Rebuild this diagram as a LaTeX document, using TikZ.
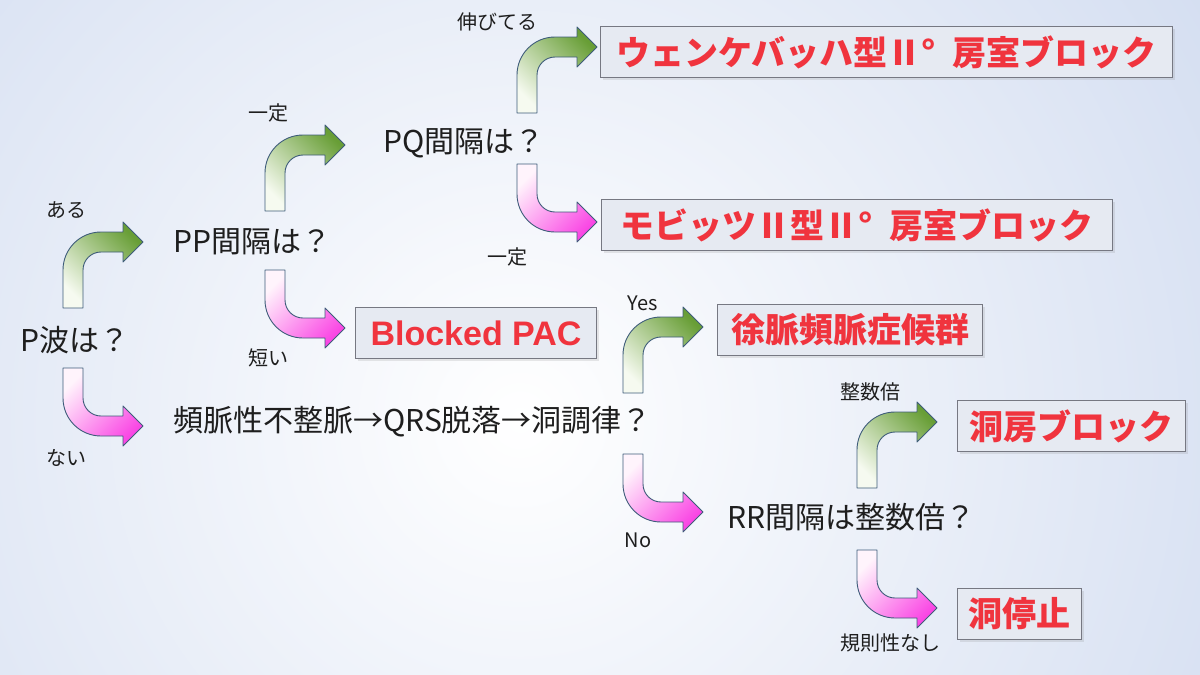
\documentclass[tikz,border=0pt]{standalone}
\usepackage{fontspec}
\setmainfont{Noto Sans CJK JP}
\newfontfamily\arialish{Liberation Sans}
\usetikzlibrary{calc,shadows}

\definecolor{bgblue}{RGB}{212,222,241}
\definecolor{ink}{RGB}{30,30,30}
\definecolor{alert}{RGB}{240,52,62}
\definecolor{boxline}{RGB}{118,120,130}
\definecolor{boxfill}{RGB}{230,234,242}
\definecolor{edge}{RGB}{62,92,122}
\definecolor{leafdark}{RGB}{104,158,54}
\definecolor{leaflight}{RGB}{246,250,240}
\definecolor{rosedark}{RGB}{250,70,228}
\definecolor{roselight}{RGB}{255,244,252}

\tikzset{
  ask/.style={anchor=west, inner sep=0pt, text=ink, font=\fontsize{30}{35}\selectfont},
  tag/.style={inner sep=0pt, text=ink, font=\fontsize{20}{24}\selectfont},
  result/.style={anchor=west, draw=boxline, line width=1pt, fill=boxfill, text=alert,
    inner xsep=6pt, minimum height=51pt,
    font=\bfseries\fontsize{34}{40}\selectfont,
    drop shadow={opacity=0.18, shadow xshift=2pt, shadow yshift=-2pt}},
  arrowline/.style={draw=edge, line width=0.9pt, line join=round},
  % bent arrows, tip at the origin
  upturn/.pic={
    \path[arrowline, top color=leafdark, bottom color=leaflight, shading angle=-45]
      (-80,66) -- (-80,28) .. controls (-80,7) and (-63,-10) .. (-42,-10)
      -- (-20,-10) -- (-20,-20) -- (0,0) -- (-20,20) -- (-20,10) -- (-42,10)
      .. controls (-51.94,10) and (-60,18.06) .. (-60,28) -- (-60,66) -- cycle;
  },
  downturn/.pic={
    \path[arrowline, top color=roselight, bottom color=rosedark, shading angle=45]
      (-80,-58) -- (-80,-28) .. controls (-80,-7) and (-63,10) .. (-42,10)
      -- (-20,10) -- (-20,20) -- (0,0) -- (-20,-20) -- (-20,-10) -- (-42,-10)
      .. controls (-51.94,-10) and (-60,-18.06) .. (-60,-28) -- (-60,-58) -- cycle;
  }
}

\begin{document}
\begin{tikzpicture}[x=1pt,y=-1pt]
  \useasboundingbox (0,0) rectangle (1200,675);
  \begin{scope}
    \clip (0,0) rectangle (1200,675);
    \shade[inner color=white, outer color=bgblue] (520,420) circle (820);
  \end{scope}

  % questions
  \node[ask] (pwave) at (20,340) {P波は？};
  \node[ask] (pp) at (173,242) {PP間隔は？};
  \node[ask] (pq) at (383,143) {PQ間隔は？};
  \node[ask] (tachy) at (173,422) {頻脈性不整脈→QRS脱落→洞調律？};
  \node[ask] (rr) at (727,517) {RR間隔は整数倍？};

  % answers
  \node[result, minimum width=572] (wenck) at (600,52) {ウェンケバッハ型Ⅱ°\hspace{.5em}房室ブロック};
  \node[result, minimum width=511] (mobitz) at (601,225) {モビッツⅡ型Ⅱ°\hspace{.5em}房室ブロック};
  \node[result, minimum width=241] (pac) at (355,333) {\arialish\bfseries Blocked PAC};
  \node[result, minimum width=265] (brady) at (717,330) {徐脈頻脈症候群};
  \node[result, minimum width=228] (sab) at (957,426) {洞房ブロック};
  \node[result, minimum width=124] (arrest) at (957,614) {洞停止};

  % arrows
  \pic (toPP) at ($(pp.west)+(-30,0)$) {upturn};
  \pic (toTachy) at ($(tachy.west)+(-30,4)$) {downturn};
  \pic (toPQ) at ($(pq.west)+(-38,2)$) {upturn};
  \pic (toPAC) at ($(pac.west)+(-10,-5)$) {downturn};
  \pic (toWenck) at ($(wenck.west)+(-3,-5)$) {upturn};
  \pic (toMobitz) at ($(mobitz.west)+(-4,-3)$) {downturn};
  \pic (toBrady) at ($(brady.west)+(-14,-3)$) {upturn};
  \pic (toRR) at ($(rr.west)+(-24,-5)$) {downturn};
  \pic (toSAB) at ($(sab.west)+(-20,-4)$) {upturn};
  \pic (toArrest) at ($(arrest.west)+(-20,-6)$) {downturn};

  % arrow labels
  \node[tag] (aru) at (66,210) {ある};
  \node[tag] (nai) at (66,458) {ない};
  \node[tag] (ppconst) at (268,113) {一定};
  \node[tag] (short) at (268,358) {短い};
  \node[tag] (grow) at (497,22) {伸びてる};
  \node[tag] (pqconst) at (507,257) {一定};
  \node[tag] (yes) at (643,303) {Yes};
  \node[tag] (no) at (638,540) {No};
  \node[tag] (multi) at (870,392) {整数倍};
  \node[tag] (irreg) at (890,643) {規則性なし};
\end{tikzpicture}
\end{document}
